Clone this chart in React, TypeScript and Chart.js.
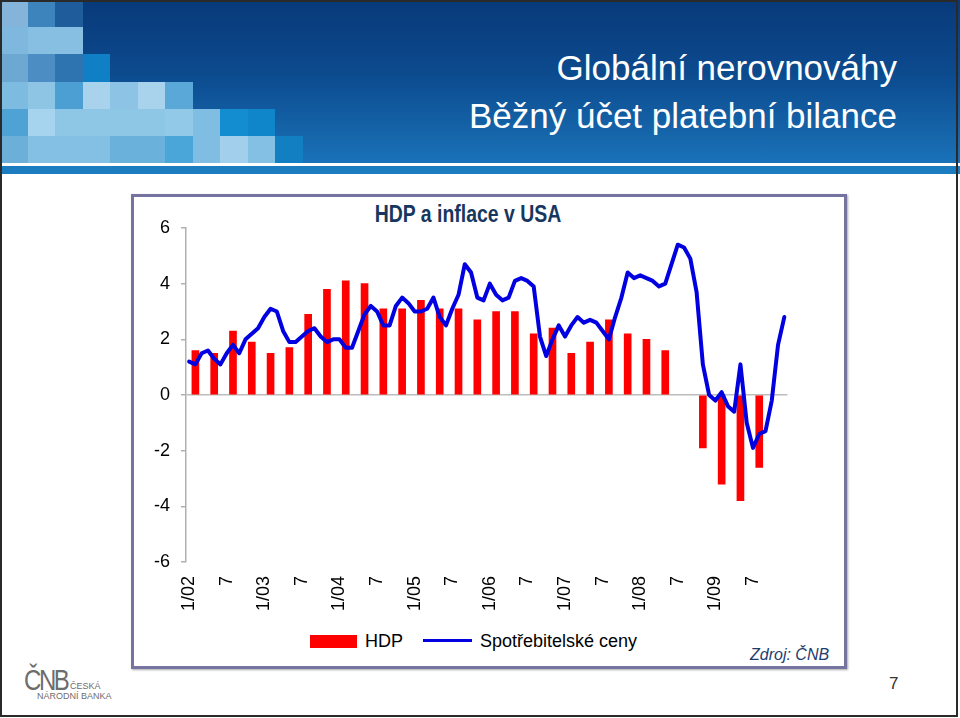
import React, { useEffect, useRef } from "react";
import { Chart, registerables } from "chart.js";
Chart.register(...registerables);

// ---- Data ----
const years: string[] = ["02", "03", "04", "05", "06", "07", "08", "09"];
const months: string[] = [];
for (const y of years) for (let m = 1; m <= 12; m++) months.push(`${m}/${y}`);

// Quarterly real GDP growth (y/y, %), Q1 2002 – Q3 2009 (null = no visible bar)
const gdpQuarterly: (number | null)[] = [
  1.6, 1.5, 2.3, 1.9,
  1.5, 1.7, 2.9, 3.8,
  4.1, 4.0, 3.1, 3.1,
  3.4, 3.1, 3.1, 2.7,
  3.0, 3.0, 2.2, 2.4,
  1.5, 1.9, 2.7, 2.2,
  2.0, 1.6, null, -1.9,
  -3.2, -3.8, -2.6,
];

// Monthly consumer prices (y/y, %), 1/2002 – 12/2009
const cpi: number[] = [
  1.2, 1.1, 1.5, 1.6, 1.3, 1.1, 1.5, 1.8, 1.5, 2.0, 2.2, 2.4,
  2.8, 3.1, 3.0, 2.3, 1.9, 1.9, 2.1, 2.3, 2.4, 2.1, 1.9, 2.0,
  2.0, 1.7, 1.7, 2.3, 2.9, 3.2, 3.0, 2.5, 2.5, 3.2, 3.5, 3.3,
  3.0, 3.0, 3.1, 3.5, 2.8, 2.5, 3.1, 3.6, 4.7, 4.4, 3.5, 3.4,
  4.0, 3.6, 3.4, 3.5, 4.1, 4.2, 4.1, 3.9, 2.1, 1.4, 2.0, 2.5,
  2.1, 2.5, 2.8, 2.6, 2.7, 2.6, 2.3, 2.0, 2.8, 3.5, 4.4, 4.2,
  4.3, 4.2, 4.1, 3.9, 4.0, 4.7, 5.4, 5.3, 4.9, 3.7, 1.1, 0.0,
  -0.2, 0.1, -0.4, -0.6, 1.1, -1.0, -1.9, -1.4, -1.3, -0.2, 1.8, 2.8,
];

const yMin = -6;
const yMax = 6;
const yStep = 2;

const legendLabels = ["HDP", "Spotřebitelské ceny"];

// bars sit on the middle month of each quarter
const gdpMonthly: (number | null)[] = months.map(() => null);
gdpQuarterly.forEach((v, q) => {
  gdpMonthly[q * 3 + 1] = v;
});

const FONT = "'Liberation Sans', Arial, Helvetica, sans-serif";
const RED = "#ff0000";
const BLUE = "#0000e0";

const tiles: [number, number, string][] = [
  [0, 0, "#84b4da"], [0, 1, "#3d84bd"], [0, 2, "#1e5c9c"],
  [1, 0, "#7fb8df"], [1, 1, "#86bfe2"], [1, 2, "#86bfe2"],
  [2, 0, "#6da8d2"], [2, 1, "#4c8ec4"], [2, 2, "#2e74b0"], [2, 3, "#0f7fc6"],
  [3, 0, "#7dbbe0"], [3, 1, "#8ec4e4"], [3, 2, "#4b9fd3"], [3, 3, "#a9d2ec"], [3, 4, "#8dc3e4"], [3, 5, "#a9d2ec"], [3, 6, "#5aa8d8"],
  [4, 0, "#4ea2d4"], [4, 1, "#a6d3ee"], [4, 2, "#8ec6e6"], [4, 3, "#8ec6e6"], [4, 4, "#8ec6e6"], [4, 5, "#8ec6e6"], [4, 6, "#92c8e8"], [4, 7, "#7fbde2"], [4, 8, "#138dcf"], [4, 9, "#0f86c9"],
  [5, 0, "#6cb0da"], [5, 1, "#84c0e4"], [5, 2, "#84c0e4"], [5, 3, "#84c0e4"], [5, 4, "#6ab2dc"], [5, 5, "#6ab2dc"], [5, 6, "#4aa6d8"], [5, 7, "#7fbde2"], [5, 8, "#a2cfeb"], [5, 9, "#84c0e4"], [5, 10, "#127fc2"],
];

function ChartCanvas() {
  const ref = useRef<HTMLCanvasElement | null>(null);
  useEffect(() => {
    if (!ref.current) return;
    const chart = new Chart(ref.current, {
      type: "bar",
      data: {
        labels: months,
        datasets: [
          {
            type: "bar",
            label: legendLabels[0],
            data: gdpMonthly as any,
            backgroundColor: RED,
            borderWidth: 0,
            barThickness: 7,
            order: 2,
          },
          {
            type: "line",
            label: legendLabels[1],
            data: cpi,
            borderColor: BLUE,
            backgroundColor: BLUE,
            borderWidth: 4,
            pointRadius: 0,
            tension: 0,
            borderJoinStyle: "round",
            borderCapStyle: "round",
            order: 1,
          } as any,
        ],
      },
      options: {
        responsive: false,
        animation: false,
        layout: { padding: { left: 0, right: 20, top: 28, bottom: 0 }, autoPadding: false } as any,
        plugins: { legend: { display: false }, tooltip: { enabled: false }, title: { display: false } },
        scales: {
          x: {
            offset: true,
            grid: { display: false, drawTicks: false },
            border: { display: false },
            ticks: {
              autoSkip: false,
              minRotation: 90,
              maxRotation: 90,
              padding: 14,
              color: "#000",
              font: { family: FONT, size: 18 },
              callback: (_v: any, i: number) => {
                const lab = months[i];
                const [m, y] = lab.split("/");
                if (m === "1") return `1/${y}`;
                if (m === "7") return "7";
                return "";
              },
            },
            afterFit: (s: any) => {
              s.height = 58;
            },
          },
          y: {
            min: yMin,
            max: yMax,
            ticks: { stepSize: yStep, padding: 11, color: "#000", font: { family: FONT, size: 18 } },
            grid: {
              color: (c: any) => (c.tick && c.tick.value === 0 ? "#bdbdbd" : "rgba(0,0,0,0)"),
              tickColor: "#b0b0b0",
              tickLength: 5,
              lineWidth: 1.5,
            },
            border: { display: true, color: "#b0b0b0", width: 1.5 },
            afterFit: (s: any) => {
              s.width = 46;
            },
          },
        },
      },
    });
    return () => chart.destroy();
  }, []);
  return (
    <canvas
      ref={ref}
      width={680}
      height={420}
      style={{ position: "absolute", left: 140, top: 200, width: 680, height: 420 }}
    />
  );
}

export default function App() {
  const abs = (o: React.CSSProperties): React.CSSProperties => ({ position: "absolute", ...o });
  return (
    <div style={abs({ left: 0, top: 0, width: 960, height: 718, background: "#fff", fontFamily: FONT, overflow: "hidden" })}>
      {/* header */}
      <div
        style={abs({
          left: 0,
          top: 0,
          width: 960,
          height: 163,
          background: "linear-gradient(180deg, #083a7a 0%, #0c4a8e 45%, #1a72b8 100%)",
        })}
      />
      {tiles.map(([r, c, col], k) => (
        <div key={k} style={abs({ left: c * 27.5, top: r * 27.2, width: 27.5, height: 27.2, background: col })} />
      ))}
      <div style={abs({ left: 0, top: 163, width: 960, height: 3, background: "#ffffff" })} />
      <div style={abs({ left: 0, top: 166, width: 960, height: 8, background: "#1b7cc0" })} />
      <div
        style={abs({
          right: 63,
          top: 50,
          color: "#fff",
          fontSize: 35,
          lineHeight: "35px",
          whiteSpace: "nowrap",
          textAlign: "right",
        })}
      >
        Globální nerovnováhy
      </div>
      <div
        style={abs({
          right: 63,
          top: 98,
          color: "#fff",
          fontSize: 35,
          lineHeight: "35px",
          whiteSpace: "nowrap",
          textAlign: "right",
        })}
      >
        Běžný účet platební bilance
      </div>

      {/* chart frame */}
      <div
        style={abs({
          left: 131,
          top: 194,
          width: 716,
          height: 475,
          boxSizing: "border-box",
          border: "3px solid #75739f",
          boxShadow: "1px 1px 2px rgba(0,0,0,0.35)",
        })}
      />
      <div
        style={abs({
          left: 268,
          width: 400,
          top: 202,
          textAlign: "center",
          color: "#17375e",
          fontWeight: "bold",
          fontSize: 24,
          lineHeight: "24px",
          whiteSpace: "nowrap",
          transform: "scaleX(0.81)",
          transformOrigin: "50% 50%",
        })}
      >
        HDP a inflace v USA
      </div>
      <ChartCanvas />

      {/* legend */}
      <div style={abs({ left: 310, top: 635, width: 47, height: 13, background: RED })} />
      <div style={abs({ left: 365, top: 632, fontSize: 18, lineHeight: "18px", color: "#000" })}>{legendLabels[0]}</div>
      <div style={abs({ left: 423, top: 639, width: 49, height: 3, background: BLUE })} />
      <div style={abs({ left: 480, top: 632, fontSize: 18, lineHeight: "18px", color: "#000", whiteSpace: "nowrap" })}>
        {legendLabels[1]}
      </div>
      <div
        style={abs({ left: 750, top: 647, fontSize: 16, lineHeight: "16px", color: "#1f3c6e", fontStyle: "italic", whiteSpace: "nowrap" })}
      >
        Zdroj: ČNB
      </div>

      {/* footer */}
      <div
        style={abs({
          left: 24,
          top: 665,
          fontSize: 30,
          lineHeight: "30px",
          color: "#6d6d6d",
          letterSpacing: -3,
          transform: "scaleX(0.8)",
          transformOrigin: "0 50%",
        })}
      >
        ČNB
      </div>
      <div style={abs({ left: 70, top: 682, fontSize: 9, lineHeight: "9px", color: "#6d6d6d" })}>ČESKÁ</div>
      <div style={abs({ left: 37, top: 692, fontSize: 9, lineHeight: "9px", color: "#6d6d6d", whiteSpace: "nowrap" })}>NÁRODNÍ BANKA</div>
      <div style={abs({ left: 889, top: 675, fontSize: 17, lineHeight: "17px", color: "#333" })}>7</div>

      {/* slide border */}
      <div
        style={abs({ left: 0, top: 0, width: 958, height: 717, boxSizing: "border-box", border: "2px solid #2a2a2a", pointerEvents: "none" })}
      />
    </div>
  );
}
